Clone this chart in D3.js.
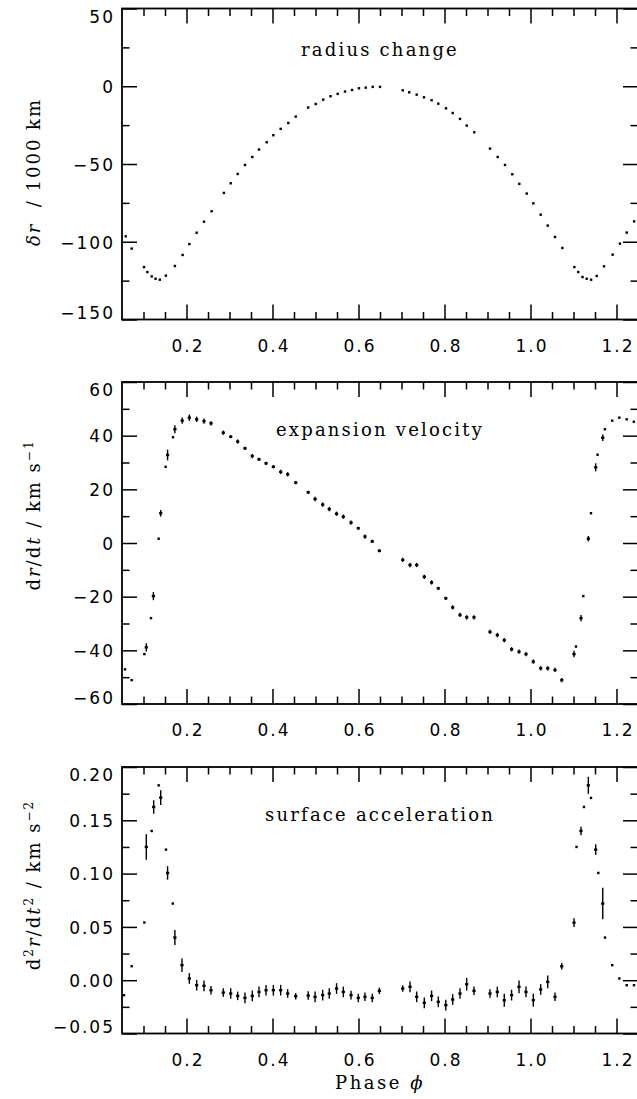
<!DOCTYPE html>
<html><head><meta charset="utf-8">
<script src="https://cdn.jsdelivr.net/npm/d3@7"></script>
<style>body{margin:0;background:#fff} svg{display:block}</style>
</head><body>
<svg id="c" width="637" height="1099"></svg>
<script>
// ---------------- data ----------------
const xTickValues = [0.2, 0.4, 0.6, 0.8, 1.0, 1.2];
const xTickLabels = ["0.2", "0.4", "0.6", "0.8", "1.0", "1.2"];

// radius change (1000 km)
const radiusPhase = [0.0586,0.0725,0.1012,0.109,0.119,0.128,0.138,0.152,0.173,0.191,0.2066,0.2236,0.2407,0.2585,0.287,0.3028,0.319,0.336,0.353,0.3686,0.3865,0.402,0.419,0.4368,0.454,0.483,0.5005,0.518,0.535,0.5516,0.5686,0.585,0.601,0.6168,0.633,0.65,0.7028,0.718,0.7353,0.7523,0.770,0.7856,0.8035,0.819,0.836,0.8516,0.8693,0.9058,0.9237,0.9407,0.9577,0.974,0.9912,1.0065,1.0237,1.04,1.057,1.074,1.102,1.111,1.121,1.1307,1.141,1.154,1.171,1.191,1.208,1.2237,1.241];
const radiusValue = [-96.5,-104.4,-116.3,-119.5,-122.3,-123.8,-124.4,-121.8,-115.6,-108.5,-101.5,-94.2,-87.1,-80.4,-68.6,-62.4,-56.4,-50.6,-45.5,-40.7,-36,-31.5,-27.4,-23.6,-19.5,-13.7,-11.4,-8.6,-6.4,-4.9,-3.4,-2.4,-1.3,-0.9,-0.4,-0.4,-2.6,-3.9,-5.4,-7.1,-9,-11.2,-14.2,-17.2,-21,-25.3,-29.6,-40.1,-45.5,-50.6,-56.6,-62.8,-69,-75.3,-82.6,-89.6,-96.9,-104,-116.3,-119.5,-122.7,-123.8,-124.4,-122,-115.8,-108.3,-101.2,-94.1,-86.9];
const radiusYTicks = [-150, -100, -50, 0, 50];
const radiusYLabels = ["\u2212150", "\u2212100", "\u221250", "0", "50"];

// expansion velocity (km/s), error 0 = plain dot
const velPhase = [0.057,0.0725,0.102,0.1065,0.1174,0.123,0.1353,0.14,0.1515,0.156,0.1686,0.173,0.190,0.2066,0.2237,0.2407,0.257,0.2856,0.3028,0.319,0.336,0.353,0.3686,0.385,0.402,0.419,0.4353,0.454,0.483,0.499,0.5167,0.532,0.549,0.5647,0.5826,0.5995,0.615,0.632,0.6485,0.7028,0.7198,0.7353,0.753,0.770,0.7856,0.803,0.819,0.836,0.8516,0.8686,0.9058,0.9228,0.939,0.956,0.9733,0.9895,1.0065,1.0237,1.04,1.057,1.0726,1.1012,1.1058,1.1174,1.1228,1.1345,1.1407,1.1516,1.156,1.168,1.173,1.190,1.2066,1.2237,1.2403];
const velValue = [-47.1,-51.1,-41.4,-38.9,-28.0,-19.8,1.6,11.1,28.4,32.8,39.4,42.4,45.6,46.7,46.1,45.4,44.6,41.1,39.6,37.8,35.3,32.4,31.2,29.7,28.4,26.5,25.6,22.5,18.9,16.4,14.3,12.6,10.9,9.8,7.6,5.5,2.4,0.6,-2.9,-6.3,-8.2,-8.2,-12.6,-14.7,-16.9,-20.6,-24.0,-26.8,-27.7,-27.7,-33.1,-34.3,-36.2,-39.6,-40.5,-41.4,-44.2,-46.7,-46.7,-47.3,-51.1,-41.4,-38.6,-28.0,-19.8,1.6,11.1,28.2,32.9,39.2,42.4,45.6,46.7,46.1,45.2];
const velError = [0,0,0,1.5,0,1.5,0,1.2,0,2.0,0,1.5,1.2,1.2,1.0,1.0,0.8,0.8,0.6,0.8,0.6,0.8,0.6,0.6,0.6,0.8,0.8,0.6,0.6,0.8,0.8,0.8,0.8,0.8,0.8,0.6,0.8,0.6,0.6,0.8,0.8,0.8,0.8,0.8,0.6,0.6,0.8,0.8,0.8,0.8,0.8,0.8,0.8,0.8,0.8,0.8,0.8,0.8,0.8,0.8,0.8,1.2,0,1.2,0,1.0,0,1.5,0,1.2,0,0,0,0,0];
const velYTicks = [-60, -40, -20, 0, 20, 40, 60];
const velYLabels = ["\u221260", "\u221240", "\u221220", "0", "20", "40", "60"];

// surface acceleration (km/s^2), error 0 = plain dot
const accPhase = [0.0547,0.0725,0.102,0.1065,0.119,0.1237,0.1353,0.14,0.1523,0.156,0.168,0.173,0.1895,0.2066,0.2237,0.2407,0.257,0.2856,0.3028,0.319,0.336,0.353,0.3686,0.385,0.402,0.419,0.4353,0.454,0.483,0.499,0.5167,0.532,0.549,0.5647,0.5826,0.5995,0.615,0.632,0.6485,0.7028,0.7198,0.7353,0.753,0.770,0.7856,0.803,0.819,0.836,0.8516,0.8686,0.9058,0.9228,0.939,0.956,0.9733,0.9895,1.0065,1.0237,1.04,1.057,1.0726,1.1012,1.107,1.1174,1.1244,1.1345,1.1407,1.1516,1.1577,1.168,1.1733,1.190,1.2066,1.2237,1.2407];
const accValue = [-0.0141,0.0131,0.0541,0.125,0.140,0.1625,0.1828,0.1713,0.1225,0.1006,0.0719,0.040,0.0141,0.0016,-0.0047,-0.0053,-0.0094,-0.0116,-0.0125,-0.0147,-0.0166,-0.0147,-0.011,-0.0094,-0.0094,-0.0094,-0.0125,-0.015,-0.0144,-0.0156,-0.014,-0.0125,-0.0078,-0.011,-0.014,-0.0166,-0.0156,-0.0166,-0.010,-0.0078,-0.0062,-0.0156,-0.0212,-0.0147,-0.0203,-0.0234,-0.0181,-0.0125,-0.0038,-0.010,-0.0125,-0.011,-0.0188,-0.014,-0.0062,-0.011,-0.0188,-0.0087,-0.0016,-0.0156,0.0131,0.054,0.125,0.140,0.1625,0.1828,0.171,0.1225,0.1006,0.0719,0.040,0.0141,0.0016,-0.0047,-0.0047];
const accError = [0,0,0,0.012,0,0.0063,0,0.007,0,0.0063,0,0.007,0.0063,0.005,0.005,0.005,0.004,0.004,0.005,0.004,0.005,0.005,0.005,0.005,0.005,0.005,0.004,0.003,0.004,0.005,0.005,0.005,0.005,0.005,0.004,0.004,0.004,0.004,0.003,0.003,0.005,0.005,0.005,0.005,0.005,0.005,0.005,0.005,0.006,0.004,0.004,0.005,0.006,0.005,0.006,0.005,0.006,0.005,0.006,0.004,0.003,0.004,0,0.004,0,0.008,0,0.005,0,0.0148,0,0,0,0,0];
const accYTicks = [-0.05, 0, 0.05, 0.10, 0.15, 0.20];
const accYLabels = ["\u22120.05", "0.00", "0.05", "0.10", "0.15", "0.20"];

// ---------------- layout ----------------
const svg = d3.select("#c");
const L = 122, R = 638;
const x = d3.scaleLinear().domain([0.05, 1.25]).range([L, R]);
const xMinor = d3.range(0.1, 1.2501, 0.05).filter(v => Math.abs(v / 0.2 - Math.round(v / 0.2)) > 1e-6);
const TICK_FONT = "'DejaVu Sans', sans-serif";
const SERIF = "'DejaVu Serif', serif";

const panels = [
  {top: 8.5, bottom: 319.5, dom: [-150, 50], ticks: radiusYTicks, labels: radiusYLabels, minorStep: 25,
   phase: radiusPhase, value: radiusValue, err: null, title: "radius change", titleY: 56},
  {top: 382, bottom: 704, dom: [-60, 60], ticks: velYTicks, labels: velYLabels, minorStep: 10,
   phase: velPhase, value: velValue, err: velError, title: "expansion velocity", titleY: 436},
  {top: 767, bottom: 1033.5, dom: [-0.05, 0.20], ticks: accYTicks, labels: accYLabels, minorStep: 0.025,
   phase: accPhase, value: accValue, err: accError, title: "surface acceleration", titleY: 821}
];

panels.forEach((p, pi) => {
  const y = d3.scaleLinear().domain(p.dom).range([p.bottom, p.top]);
  const yMinor = d3.range(p.dom[0], p.dom[1] + 1e-9, p.minorStep)
    .filter(v => !p.ticks.some(t => Math.abs(t - v) < 1e-9));
  const g = svg.append("g");

  function styleAxis(sel) {
    sel.select(".domain").remove();
    sel.selectAll("line").attr("stroke", "#000").attr("stroke-width", 1.5);
  }
  // left axis: major with labels
  const la = g.append("g").attr("transform", `translate(${L},0)`)
    .call(d3.axisLeft(y).tickValues(p.ticks).tickSize(-15).tickPadding(7)
      .tickFormat((d, i) => p.labels[i]));
  styleAxis(la);
  la.selectAll("text").attr("font-family", TICK_FONT).attr("font-size", 17)
    .attr("fill", "#000").style("letter-spacing", "2px")
    .attr("dy", (d, i) => i === 0 ? "-0.05em" : (i === p.ticks.length - 1 ? "0.82em" : "0.37em"));
  g.append("g").attr("transform", `translate(${L},0)`)
    .call(d3.axisLeft(y).tickValues(yMinor).tickSize(-7.5).tickFormat("")).call(styleAxis);
  // right axis
  g.append("g").attr("transform", `translate(${R},0)`)
    .call(d3.axisRight(y).tickValues(p.ticks).tickSize(-15).tickFormat("")).call(styleAxis);
  g.append("g").attr("transform", `translate(${R},0)`)
    .call(d3.axisRight(y).tickValues(yMinor).tickSize(-7.5).tickFormat("")).call(styleAxis);
  // bottom axis with labels
  const ba = g.append("g").attr("transform", `translate(0,${p.bottom})`)
    .call(d3.axisBottom(x).tickValues(xTickValues).tickSize(-15)
      .tickFormat((d, i) => xTickLabels[i]));
  styleAxis(ba);
  ba.selectAll("text").attr("font-family", TICK_FONT).attr("font-size", 17)
    .attr("fill", "#000").style("letter-spacing", "2px")
    .attr("y", 32).attr("dy", 0).attr("dx", 1);
  g.append("g").attr("transform", `translate(0,${p.bottom})`)
    .call(d3.axisBottom(x).tickValues(xMinor).tickSize(-7.5).tickFormat("")).call(styleAxis);
  // top axis
  g.append("g").attr("transform", `translate(0,${p.top})`)
    .call(d3.axisTop(x).tickValues(xTickValues).tickSize(-15).tickFormat("")).call(styleAxis);
  g.append("g").attr("transform", `translate(0,${p.top})`)
    .call(d3.axisTop(x).tickValues(xMinor).tickSize(-7.5).tickFormat("")).call(styleAxis);

  // frame
  g.append("rect").attr("x", L).attr("y", p.top).attr("width", R - L).attr("height", p.bottom - p.top)
    .attr("fill", "none").attr("stroke", "#000").attr("stroke-width", 1.8);

  // title
  g.append("text").attr("x", 380).attr("y", p.titleY).attr("text-anchor", "middle")
    .attr("font-family", SERIF).attr("font-size", 18).style("letter-spacing", "2.2px")
    .attr("fill", "#000").text(p.title);

  // data
  const pts = p.phase.map((ph, i) => ({ph, v: p.value[i], e: p.err ? p.err[i] : 0}));
  g.append("g").selectAll("line").data(pts.filter(d => d.e > 0)).join("line")
    .attr("x1", d => x(d.ph)).attr("x2", d => x(d.ph))
    .attr("y1", d => y(d.v - d.e)).attr("y2", d => y(d.v + d.e))
    .attr("stroke", "#000").attr("stroke-width", 1.4);
  g.append("g").selectAll("rect").data(pts).join("rect")
    .attr("x", d => x(d.ph) - (d.e > 0 ? 1.6 : 1.2)).attr("y", d => y(d.v) - 1.2)
    .attr("width", d => d.e > 0 ? 3.2 : 2.4).attr("height", 2.4).attr("fill", "#000");
});

// y-axis titles
function yTitle(cx, cy, parts) {
  const t = svg.append("text").attr("transform", `translate(${cx},${cy}) rotate(-90)`)
    .attr("text-anchor", "middle").attr("font-family", SERIF).attr("font-size", 18)
    .style("letter-spacing", "2px").attr("fill", "#000");
  let shift = 0;
  parts.forEach(pt => {
    const s = t.append("tspan").text(pt.t);
    if (pt.i) s.attr("font-style", "italic");
    if (pt.sup) {
      s.attr("font-size", 12).attr("dy", -7 - shift); shift = -7;
    } else if (shift !== 0) {
      s.attr("dy", -shift); shift = 0;
    }
  });
}
yTitle(40, 172, [{t: "\u03B4r", i: true}, {t: "\u00A0\u00A0/ 1000 km"}]);
yTitle(40, 515, [{t: "d"}, {t: "r", i: true}, {t: "/d"}, {t: "t", i: true}, {t: " / km s"}, {t: "\u22121", sup: true}]);
yTitle(40, 885, [{t: "d"}, {t: "2", sup: true}, {t: "r", i: true}, {t: "/d"}, {t: "t", i: true}, {t: "2", sup: true}, {t: " / km s"}, {t: "\u22122", sup: true}]);

// x-axis title
const xt = svg.append("text").attr("x", 380).attr("y", 1089).attr("text-anchor", "middle")
  .attr("font-family", SERIF).attr("font-size", 18).style("letter-spacing", "2.5px").attr("fill", "#000");
xt.append("tspan").text("Phase ");
xt.append("tspan").attr("font-style", "italic").text("\u03D5");
</script>
</body></html>
